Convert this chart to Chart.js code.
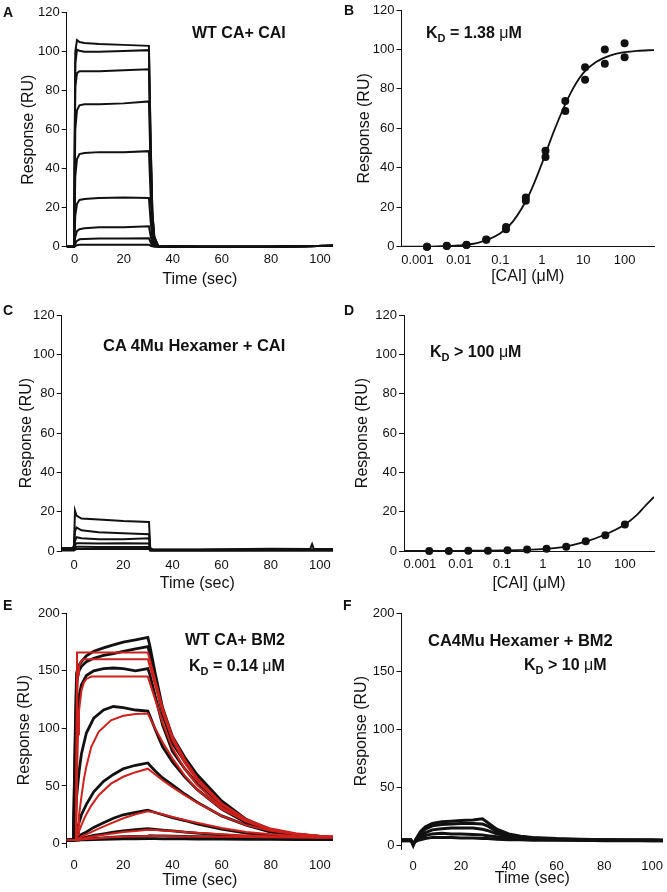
<!DOCTYPE html>
<html>
<head>
<meta charset="utf-8">
<script src="https://cdn.jsdelivr.net/npm/chart.js@4.4.0/dist/chart.umd.min.js"></script>
<style>
  html, body { margin: 0; padding: 0; background: #fff; }
  #figure { position: relative; width: 667px; height: 892px; overflow: hidden; background: #fff;
            font-family: 'Liberation Sans', Arial, Helvetica, sans-serif; color: #111; }
  #figure canvas { position: absolute; }
  .lbl { position: absolute; white-space: nowrap; line-height: 20px; font-weight: bold; z-index: 2; }
  .letter { font-size: 14px; }
  .note { font-size: 16px; }
  .note sub { font-size: 11px; vertical-align: baseline; position: relative; top: 4px; }
  .mu { font-weight: normal; }
</style>
</head>
<body>
<div id="figure">
  <div class="lbl letter" style="left:3px; top:2px">A</div>
  <div class="lbl letter" style="left:344px; top:0px">B</div>
  <div class="lbl letter" style="left:3px; top:300px">C</div>
  <div class="lbl letter" style="left:344px; top:300px">D</div>
  <div class="lbl letter" style="left:3px; top:595px">E</div>
  <div class="lbl letter" style="left:343px; top:595px">F</div>

  <div class="lbl note" style="left:192px; top:23px">WT CA+ CAI</div>
  <div class="lbl note" style="left:426px; top:23px">K<sub>D</sub> = 1.38 <span class="mu">μ</span>M</div>
  <div class="lbl note" style="left:103px; top:335px; font-size:16.5px">CA 4Mu Hexamer + CAI</div>
  <div class="lbl note" style="left:430px; top:342px">K<sub>D</sub> &gt; 100 <span class="mu">μ</span>M</div>
  <div class="lbl note" style="left:185px; top:630px">WT CA+ BM2</div>
  <div class="lbl note" style="left:189px; top:656px">K<sub>D</sub> = 0.14 <span class="mu">μ</span>M</div>
  <div class="lbl note" style="left:428px; top:630px; font-size:16.5px">CA4Mu Hexamer + BM2</div>
  <div class="lbl note" style="left:524px; top:655px">K<sub>D</sub> &gt; 10 <span class="mu">μ</span>M</div>
</div>
<script>
const FONT = "'Liberation Sans', Arial, Helvetica, sans-serif";

// tick labels
const timeTicks = [0, 20, 40, 60, 80, 100];
const concTicks = [0.001, 0.01, 0.1, 1, 10, 100];
const cai_yTicks = [0, 20, 40, 60, 80, 100, 120];
const bm2_yTicks = [0, 50, 100, 150, 200];

// A: WT CA + CAI sensorgrams
const timeA = [-3.2, -0.2, 0.3, 1, 2, 4, 10, 20, 30.3, 31, 31.7, 32.5, 34, 50, 80, 105.3];
const respA1 = [0, 0, 100, 106, 105, 104.5, 104, 103.5, 103, 55, 18, 5, 0.5, 0, 0, 0.5];
const respA2 = [0, 0, 94, 101, 100.5, 100, 100, 100.3, 100.8, 53, 17, 5, 0.5, 0, 0, 0.5];
const respA3 = [0, 0, 82, 89, 90, 90, 90, 90.5, 91, 48, 16, 4.5, 0.5, 0, 0, 0.5];
const respA4 = [0, 0, 60, 70, 72.5, 73, 73, 73.5, 74.5, 40, 13, 4, 0.5, 0, 0, 0.5];
const respA5 = [0, 0, 36, 45, 47.5, 48, 48.5, 48.5, 49, 26, 9, 3, 0.3, 0, 0, 0.5];
const respA6 = [0, 0, 16, 22, 24, 24.5, 25, 25.2, 25, 13, 4.5, 1.5, 0.2, 0, 0, 0.5];
const respA7 = [0, 0, 5, 8, 9, 9.5, 10, 10, 10.5, 5.5, 2, 0.7, 0, 0, 0, 0.5];
const respA8 = [0, 0, 1.5, 3, 3.8, 4, 4.2, 4.2, 4.3, 2.3, 0.8, 0.3, 0, 0, 0, 0.5];
const respA9 = [0, 0, 0.3, 0.8, 1, 1, 1, 1, 1, 0.5, 0.2, 0, 0, 0, 0, 0.5];

// B: WT CA steady-state binding
const concCAI = [0.00169, 0.00508, 0.0152, 0.0457, 0.137, 0.412, 1.23, 3.70, 11.1, 33.3, 100];
const respB_rep1 = [0, 0.5, 1, 3.7, 10, 25, 48.6, 73.9, 91, 100, 103.2];
const respB_rep2 = [0, 0.3, 0.8, 3.5, 8.8, 23.3, 45.5, 68.8, 84.7, 92.7, 96.1];
const fitConcB = [0.00041, 0.001, 0.003, 0.01, 0.03, 0.1, 0.2, 0.5, 1, 2, 5, 10, 20, 50, 100, 200, 513];
const fitRespB = [0.03, 0.07, 0.2, 0.7, 2.1, 6.8, 12.7, 26.6, 42, 59, 78, 88, 93.5, 97.3, 98.6, 99.3, 99.7];

// C: CA 4Mu hexamer + CAI sensorgrams
const timeC = [-5, -0.5, 0, 0.4, 1, 3, 10, 20, 30.5, 31, 32, 50, 80, 96, 96.8, 97.5, 105.3];
const respC1 = [1.5, 1.5, 3, 20.5, 18, 16.5, 16, 15.2, 14.8, 1.5, 0.8, 0.8, 1.2, 1, 3.5, 1, 1];
const respC2 = [1, 1, 2, 10, 12, 10.5, 9.5, 9, 8.5, 1, 0.6, 0.6, 0.8, 0.8, 0.8, 0.8, 0.8];
const respC3 = [1, 1, 1.5, 5, 7, 6.5, 6, 6, 6.5, 0.8, 0.5, 0.5, 0.6, 0.6, 0.6, 0.6, 0.6];
const respC4 = [0.5, 0.5, 1, 3, 4, 4, 3.8, 4, 3.8, 0.5, 0.4, 0.4, 0.5, 0.5, 0.5, 0.5, 0.5];
const respC5 = [0.5, 0.5, 0.5, 1.5, 2.2, 2.2, 2, 2, 2, 0.3, 0.3, 0.3, 0.3, 0.3, 0.3, 0.3, 0.3];
const respC6 = [0.2, 0.2, 0.2, 0.6, 1, 1, 1, 1, 1, 0.2, 0.2, 0.2, 0.2, 0.2, 0.2, 0.2, 0.2];

// D: CA 4Mu hexamer steady-state binding
const respD = [0, 0, 0.1, 0.1, 0.4, 0.7, 1.2, 2.2, 5, 8, 13.5];
const fitConcD = [0.00041, 0.01, 0.1, 1, 3, 10, 30, 100, 200, 300, 513];
const fitRespD = [0, 0.1, 0.3, 1, 2, 4.5, 8, 13.5, 18.5, 22.5, 27.5];

// E: WT CA + BM2, measured (black) and fitted (red)
const timeE = [-3, -0.3, 0.5, 1, 2, 3, 5, 8, 12, 16, 20, 25, 30, 30.8, 33, 36, 40, 45, 50, 60, 70, 80, 90, 100, 105.3];
const respE1 = [3, 3, 100, 148, 155, 158, 163, 167, 170, 172.5, 175, 177, 179, 172, 148, 118, 93, 75, 60, 37, 21, 12, 8, 6, 5];
const respE2 = [3, 3, 90, 140, 150, 154, 158, 161, 163.5, 165, 167, 169, 171, 165, 142, 112, 87, 71, 57, 35, 20, 11.5, 7.5, 5.5, 5];
const respE3 = [3, 3, 60, 100, 128, 138, 146, 150, 152, 152.5, 152, 150, 152, 147, 128, 103, 80, 65, 52, 32, 19, 11, 7, 5, 5];
const respE4 = [3, 3, 20, 40, 62, 78, 96, 109, 116, 119, 118, 116, 115, 111, 99, 84, 71, 58, 47, 30, 18, 11, 7, 5, 5];
const respE5 = [3, 3, 5, 10, 18, 25, 34, 45, 54, 60, 65, 68, 70, 68, 63, 57, 51, 43, 36, 24, 16, 10, 7, 5, 5];
const respE6 = [3, 3, 4, 5, 6, 8, 10, 14, 18, 22, 25, 27, 29, 28.5, 27, 25, 22.5, 20, 17, 12.5, 9, 7, 5.5, 4.5, 4];
const respE7 = [3, 3, 3, 3.5, 4, 4.5, 5.5, 7, 8.5, 10, 11, 12, 13, 12.8, 12.3, 11.7, 11, 10, 9, 7.5, 6, 5, 4.5, 4, 4];
const respE8 = [3, 3, 3, 3, 3.3, 3.6, 4, 4.5, 5, 5.5, 6, 6.3, 6.5, 6.8, 6.7, 6.6, 6.4, 6.2, 6, 5.8, 5.4, 5, 4.7, 4.4, 4];
const respE9 = [3, 3, 3, 3, 3, 3.2, 3.3, 3.5, 3.6, 3.8, 4, 4, 4.2, 4.2, 4.2, 4.1, 4, 4, 3.9, 3.8, 3.7, 3.6, 3.5, 3.5, 3.5];
const timeEfit = [-3, 0.8, 1.2, 1.6, 2, 3, 4, 5, 7, 10, 15, 20, 25, 30, 33, 36, 40, 45, 50, 60, 70, 80, 90, 100, 105.3];
const fitE1 = [3, 3, 166, 166, 166, 166, 166, 166, 166, 166, 166, 166, 166, 166, 142, 118, 93, 73, 57, 35, 21, 13, 9, 6.5, 6];
const fitE2 = [3, 3, 120, 148, 154, 159, 160, 160, 160, 160, 160, 160, 160, 160, 137, 114, 90, 70, 55, 34, 20.5, 12.5, 8.5, 6.5, 6];
const fitE3 = [3, 3, 60, 95, 115, 133, 140, 143, 145, 145, 145, 145, 145, 145, 125, 105, 83, 65, 51, 31.5, 19.5, 12, 8.5, 6.5, 6];
const fitE4 = [3, 3, 8, 15, 24, 41, 56, 67, 84, 97, 107, 111, 112.5, 113, 100, 88, 74, 59, 47, 30, 19, 12, 8.5, 6.5, 6];
const fitE5 = [3, 3, 5.5, 8, 10.5, 16, 21, 25.5, 33, 42, 52, 58, 62, 65, 60, 55, 49, 42, 35.5, 24, 16, 11, 8, 6.5, 6];
const fitE6 = [3, 3, 3.5, 4, 4.5, 6, 7, 8, 10, 13, 17.5, 22, 25.5, 28, 27, 25.5, 23, 20.5, 18, 13.5, 10, 8, 6.5, 5.5, 5.5];
const fitE7 = [3, 3, 3.2, 3.4, 3.6, 4, 4.5, 5, 6, 7, 8.5, 10, 11, 12, 11.8, 11.4, 10.8, 10, 9.3, 8, 7, 6.3, 5.8, 5.5, 5.5];
const fitE8 = [3, 3, 3.1, 3.2, 3.3, 3.5, 3.7, 3.9, 4.2, 4.7, 5.4, 6, 6.3, 6.6, 6.6, 6.5, 6.4, 6.2, 6, 5.8, 5.6, 5.4, 5.2, 5, 5];

// F: CA4Mu hexamer + BM2 sensorgrams
const timeF = [-5, -1, 0, 1, 3, 5, 8, 12, 16, 20, 25, 29, 31, 35, 40, 45, 50, 60, 70, 80, 90, 100, 104.6];
const respF1 = [5, 5, 0, 5, 12, 16, 19, 20.5, 21, 21.5, 22, 23, 20, 14, 10, 8, 7, 6, 5.5, 5, 5, 5, 4.5];
const respF2 = [5, 5, 1, 5, 10, 14, 17, 18, 18.5, 19, 19, 18.5, 17, 12, 9, 7.5, 6.5, 5.5, 5, 5, 4.5, 4.5, 4.5];
const respF3 = [4.5, 4.5, 1, 4, 8, 11, 13.5, 14.5, 15, 15, 15, 14, 13, 10, 8, 7, 6, 5.5, 5, 4.5, 4.5, 4.5, 4.5];
const respF4 = [4, 4, 2, 4, 6.5, 8.5, 10, 10.5, 10, 10, 9.5, 9, 8.5, 7.5, 6.5, 6, 5.5, 5, 4.5, 4.5, 4.5, 4, 4];
const respF5 = [4, 4, 2, 3.5, 5, 6, 7, 7, 7, 6.5, 6.5, 6, 6, 5.5, 5, 5, 4.5, 4.5, 4.5, 4, 4, 4, 4];

const BLACK = '#111';
const RED = '#d0201c';

function toPoints(xs, ys) {
  return ys.map((y, i) => ({ x: xs[i], y }));
}

function trace(xs, ys, color, width, order) {
  return {
    data: toPoints(xs, ys),
    borderColor: color,
    borderWidth: width,
    pointRadius: 0,
    fill: false,
    tension: 0,
    order: order || 0,
    clip: { left: 0, top: 0, right: 0, bottom: 3 },
  };
}

function fitCurve(xs, ys) {
  return {
    data: toPoints(xs, ys),
    borderColor: BLACK,
    borderWidth: 1.8,
    pointRadius: 0,
    fill: false,
    cubicInterpolationMode: 'monotone',
    order: 1,
  };
}

function dots(xs, ys) {
  return {
    data: toPoints(xs, ys),
    showLine: false,
    pointRadius: 4,
    pointBackgroundColor: BLACK,
    pointBorderWidth: 0,
    order: 0,
    clip: false,
  };
}

function drawPanel(p) {
  const cvLeft = p.cvLeft;
  const cvTop = p.cvTop;
  const cvBottom = p.xTitleY + 12;
  const canvas = document.createElement('canvas');
  canvas.width = Math.round(p.area.r - cvLeft);
  canvas.height = Math.round(cvBottom - cvTop);
  canvas.style.left = cvLeft + 'px';
  canvas.style.top = cvTop + 'px';
  document.getElementById('figure').appendChild(canvas);

  const yWidth = p.area.l - cvLeft;
  const xHeight = canvas.height - (p.area.b - cvTop);

  new Chart(canvas, {
    type: 'line',
    data: { datasets: p.datasets },
    options: {
      responsive: false,
      animation: false,
      events: [],
      layout: { padding: { top: p.area.t - cvTop, left: 0, right: 0, bottom: 0 } },
      plugins: { legend: { display: false }, tooltip: { enabled: false } },
      scales: {
        x: {
          type: p.xType,
          min: p.xMin,
          max: p.xMax,
          afterBuildTicks: s => { s.ticks = p.xTicks.map(v => ({ value: v })); },
          afterFit: s => { s.height = xHeight; s.paddingLeft = 0; s.paddingRight = 0; },
          grid: { display: false, drawTicks: false },
          border: { display: !!p.xBorder, color: BLACK, width: 1 },
          ticks: {
            autoSkip: false, maxRotation: 0, padding: p.xTickPad, color: BLACK,
            font: { family: FONT, size: 13 },
            callback: v => String(v),
          },
          title: {
            display: true, text: p.xTitle, color: BLACK,
            font: { family: FONT, size: 16 },
            padding: { top: 0, bottom: cvBottom - 9.6 - p.xTitleY },
          },
        },
        y: {
          type: 'linear',
          min: p.yMin,
          max: p.yMax,
          afterBuildTicks: s => { s.ticks = p.yTicks.map(v => ({ value: v })); },
          afterFit: s => { s.width = yWidth; s.paddingTop = 0; s.paddingBottom = 0; },
          grid: { display: true, drawOnChartArea: false, drawTicks: true, tickLength: 5, color: BLACK, lineWidth: 1 },
          border: { display: true, color: BLACK, width: 1 },
          ticks: { padding: 2, color: BLACK, font: { family: FONT, size: 13 } },
          title: {
            display: true, text: 'Response (RU)', color: BLACK,
            font: { family: FONT, size: 16 },
            padding: { top: p.yTitleX - cvLeft - 9.6, bottom: 0 },
          },
        },
      },
    },
  });
}

const respA = [respA1, respA2, respA3, respA4, respA5, respA6, respA7, respA8, respA9];
const respC = [respC1, respC2, respC3, respC4, respC5, respC6];
const respE = [respE1, respE2, respE3, respE4, respE5, respE6, respE7, respE8, respE9];
const fitE = [fitE1, fitE2, fitE3, fitE4, fitE5, fitE6, fitE7, fitE8];
const respF = [respF1, respF2, respF3, respF4, respF5];

drawPanel({
  cvLeft: 0, cvTop: 0,
  area: { l: 66.7, t: 12.7, r: 333, b: 246.7 },
  yTitleX: 28.3, xTitleY: 279.5, xTickPad: 5,
  xType: 'linear', xMin: -3.2, xMax: 105.3, xTicks: timeTicks, xTitle: 'Time (sec)',
  yMin: 0, yMax: 120, yTicks: cai_yTicks,
  datasets: respA.map(r => trace(timeA, r, BLACK, 2)),
});

drawPanel({
  cvLeft: 336, cvTop: 0,
  area: { l: 401.5, t: 10, r: 658, b: 246.7 },
  yTitleX: 364.7, xTitleY: 277, xTickPad: 6, xBorder: true,
  xType: 'logarithmic', xMin: 0.00041, xMax: 513, xTicks: concTicks, xTitle: '[CAI] (μM)',
  yMin: 0, yMax: 120, yTicks: cai_yTicks,
  datasets: [
    dots(concCAI, respB_rep1),
    dots(concCAI, respB_rep2),
    fitCurve(fitConcB, fitRespB),
  ],
});

drawPanel({
  cvLeft: 0, cvTop: 290,
  area: { l: 61.7, t: 315, r: 333, b: 551 },
  yTitleX: 26.7, xTitleY: 584, xTickPad: 7,
  xType: 'linear', xMin: -5, xMax: 105.3, xTicks: timeTicks, xTitle: 'Time (sec)',
  yMin: 0, yMax: 120, yTicks: cai_yTicks,
  datasets: respC.map(r => trace(timeC, r, BLACK, 2)),
});

drawPanel({
  cvLeft: 336, cvTop: 290,
  area: { l: 404, t: 315, r: 658, b: 551 },
  yTitleX: 363, xTitleY: 584, xTickPad: 6, xBorder: true,
  xType: 'logarithmic', xMin: 0.00041, xMax: 513, xTicks: concTicks, xTitle: '[CAI] (μM)',
  yMin: 0, yMax: 120, yTicks: cai_yTicks,
  datasets: [
    dots(concCAI, respD),
    fitCurve(fitConcD, fitRespD),
  ],
});

drawPanel({
  cvLeft: 0, cvTop: 590,
  area: { l: 66.7, t: 613.3, r: 333, b: 847 },
  yTitleX: 25, xTitleY: 880.5, xTickPad: 11,
  xType: 'linear', xMin: -3, xMax: 105.3, xTicks: timeTicks, xTitle: 'Time (sec)',
  yMin: -3, yMax: 200, yTicks: bm2_yTicks,
  datasets: fitE.map(r => trace(timeEfit, r, RED, 2, 0))
    .concat(respE.map(r => trace(timeE, r, BLACK, 2.8, 1))),
});

drawPanel({
  cvLeft: 336, cvTop: 590,
  area: { l: 401.5, t: 613.3, r: 663, b: 849 },
  yTitleX: 361.3, xTitleY: 879, xTickPad: 10,
  xType: 'linear', xMin: -4.9, xMax: 104.6, xTicks: timeTicks, xTitle: 'Time (sec)',
  yMin: -3, yMax: 200, yTicks: bm2_yTicks,
  datasets: respF.map(r => trace(timeF, r, BLACK, 3)),
});
</script>
</body>
</html>
